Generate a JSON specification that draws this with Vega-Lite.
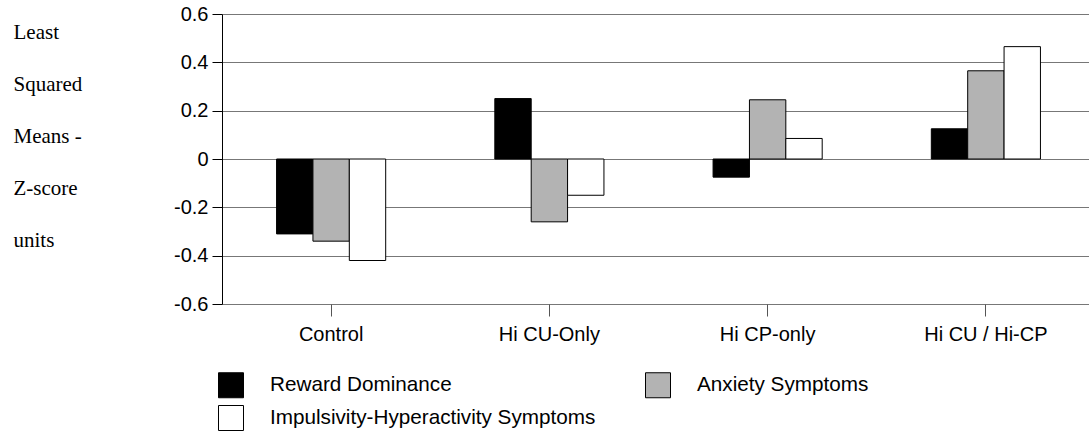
{
  "$schema": "https://vega.github.io/schema/vega-lite/v6.json",
  "autosize": "none",
  "width": 866,
  "height": 290,
  "padding": {"left": 222, "top": 14, "right": 1, "bottom": 129},
  "background": "white",
  "config": {"view": {"stroke": null}, "font": "Liberation Sans"},
  "data": {"values": [
    {"group": "Control", "measure": "Reward Dominance", "value": -0.31},
    {"group": "Control", "measure": "Anxiety Symptoms", "value": -0.34},
    {"group": "Control", "measure": "Impulsivity-Hyperactivity Symptoms", "value": -0.42},
    {"group": "Hi CU-Only", "measure": "Reward Dominance", "value": 0.25},
    {"group": "Hi CU-Only", "measure": "Anxiety Symptoms", "value": -0.26},
    {"group": "Hi CU-Only", "measure": "Impulsivity-Hyperactivity Symptoms", "value": -0.15},
    {"group": "Hi CP-only", "measure": "Reward Dominance", "value": -0.075},
    {"group": "Hi CP-only", "measure": "Anxiety Symptoms", "value": 0.245},
    {"group": "Hi CP-only", "measure": "Impulsivity-Hyperactivity Symptoms", "value": 0.085},
    {"group": "Hi CU / Hi-CP", "measure": "Reward Dominance", "value": 0.125},
    {"group": "Hi CU / Hi-CP", "measure": "Anxiety Symptoms", "value": 0.365},
    {"group": "Hi CU / Hi-CP", "measure": "Impulsivity-Hyperactivity Symptoms", "value": 0.465}
  ]},
  "mark": {"type": "bar", "stroke": "black", "strokeWidth": 1},
  "encoding": {
    "x": {
      "field": "group", "type": "nominal",
      "sort": ["Control", "Hi CU-Only", "Hi CP-only", "Hi CU / Hi-CP"],
      "scale": {"range": [0, 873], "paddingInner": 0.5, "paddingOuter": 0.25},
      "axis": {
        "title": null, "labelAngle": 0, "domain": false,
        "ticks": true, "tickSize": 12, "tickColor": "#555",
        "labelFont": "Liberation Sans", "labelFontSize": 20, "labelColor": "black",
        "labelPadding": 8
      }
    },
    "xOffset": {
      "field": "measure", "type": "nominal",
      "sort": ["Reward Dominance", "Anxiety Symptoms", "Impulsivity-Hyperactivity Symptoms"],
      "scale": {"paddingInner": 0, "paddingOuter": 0}
    },
    "y": {
      "field": "value", "type": "quantitative",
      "scale": {"domain": [-0.6, 0.6], "nice": false, "zero": false},
      "axis": {
        "values": [-0.6, -0.4, -0.2, 0, 0.2, 0.4, 0.6],
        "labelExpr": "abs(datum.value) < 1e-9 ? '0' : (datum.value < 0 ? '-' : '') + format(abs(datum.value), '.1f')",
        "labelFont": "Liberation Sans", "labelFontSize": 20, "labelColor": "black",
        "labelPadding": 4,
        "tickSize": 10, "tickColor": "black",
        "domainColor": "black",
        "grid": true, "gridColor": "#777", "gridWidth": 1,
        "title": ["Least", "Squared", "Means -", "Z-score", "units"],
        "titleFont": "Liberation Serif", "titleFontSize": 21, "titleFontWeight": "normal",
        "titleColor": "black",
        "titleAngle": 0, "titleAlign": "left", "titleBaseline": "alphabetic",
        "titleLineHeight": 52,
        "titleX": -209, "titleY": 24
      }
    },
    "fill": {
      "field": "measure", "type": "nominal",
      "sort": ["Reward Dominance", "Anxiety Symptoms", "Impulsivity-Hyperactivity Symptoms"],
      "scale": {"range": ["#000000", "#b3b3b3", "#ffffff"]},
      "legend": {
        "title": null, "orient": "none", "legendX": -4, "legendY": 358,
        "direction": "horizontal", "columns": 2, "columnPadding": 47, "rowPadding": 3,
        "padding": 0,
        "symbolType": "square", "symbolSize": 625, "symbolStrokeColor": "black",
        "symbolStrokeWidth": 1, "symbolOpacity": 1,
        "labelFont": "Liberation Sans", "labelFontSize": 20.7, "labelColor": "black",
        "labelOffset": 26, "labelLimit": 500
      }
    }
  }
}
